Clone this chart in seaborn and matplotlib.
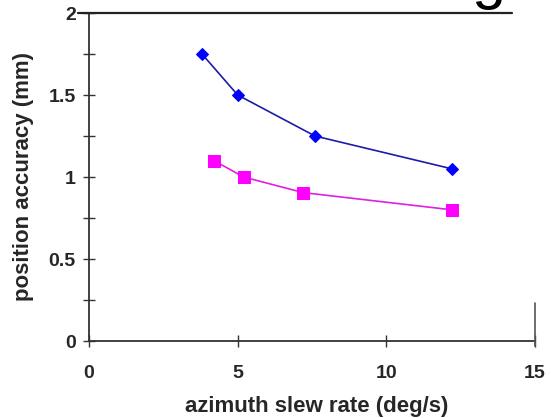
import matplotlib
matplotlib.use("Agg")
import matplotlib.pyplot as plt
import seaborn as sns
import pandas as pd
from matplotlib.lines import Line2D

sns.set_style("white")
plt.rcParams['font.family'] = ['Liberation Sans', 'DejaVu Sans']

blue_x = [3.8, 5.0, 7.6, 12.2]
blue_y = [1.75, 1.5, 1.25, 1.05]
pink_x = [4.2, 5.2, 7.2, 12.2]
pink_y = [1.10, 1.00, 0.905, 0.80]
x_ticks = [0, 5, 10, 15]
y_ticks = [0, 0.5, 1, 1.5, 2]
y_tick_labels = ["0", "0.5", "1", "1.5", "2"]

fig = plt.figure(figsize=(5.51, 4.18), dpi=100)
ax = fig.add_axes([89/551, 77/418, (535-89)/551, (341-13)/418])

sns.lineplot(x=blue_x, y=blue_y, ax=ax, color="#1c1ca8", lw=1.2,
             marker="D", markersize=6.5, markerfacecolor="#0000ff",
             markeredgecolor="#0000ff")
sns.lineplot(x=pink_x, y=pink_y, ax=ax, color="#e020e0", lw=1.2,
             marker="s", markersize=8, markerfacecolor="#ff00ff",
             markeredgecolor="#ff00ff")

ax.set_xlim(0, 15)
ax.set_ylim(0, 2)
ax.set_xticks(x_ticks)
ax.set_xticklabels([str(t) for t in x_ticks], fontsize=14, fontweight="bold")
ax.set_yticks(y_ticks)
ax.set_yticklabels(y_tick_labels, fontsize=14, fontweight="bold")
ax.set_yticks([0.25, 0.75, 1.25, 1.75], minor=True)
ax.tick_params(axis="both", which="both", direction="inout", length=9, width=1,
               color="#333333", left=True, bottom=True)
ax.tick_params(axis="x", pad=13)
ax.tick_params(axis="y", pad=5)
for s in ["top", "right"]:
    ax.spines[s].set_visible(False)
for s in ["left", "bottom"]:
    ax.spines[s].set_color("#333333")
    ax.spines[s].set_linewidth(1.3)

ax.set_xlabel("azimuth slew rate (deg/s)", fontsize=16, fontweight="bold")
ax.xaxis.set_label_coords((316.5 - 89) / 446, (341 - 396) / 328)
ax.set_ylabel("position accuracy (mm)", fontsize=16, fontweight="bold")
ax.yaxis.set_label_coords((34 - 89) / 446, (341 - 176.5) / 328)

# artifacts from the cropped source figure
fig.add_artist(Line2D([78/551, 512/551], [1 - 13/418, 1 - 13/418], color="#222222", lw=1.6))
fig.add_artist(Line2D([535/551, 535/551], [1 - 303/418, 1 - 346/418], color="#555555", lw=1.2))
fig.text(488/551, 1 + 3/418, "g", fontsize=44, ha="center", va="baseline", color="black")

fig.savefig("out.png", dpi=100)
